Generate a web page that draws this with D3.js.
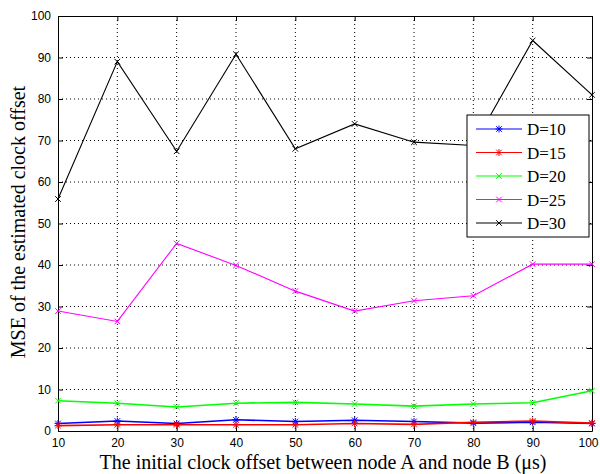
<html>
<head>
<script src="https://d3js.org/d3.v7.min.js"></script>
<style>
body { margin: 0; background: #fff; }
svg { display: block; }
</style>
</head>
<body>
<svg></svg>
<script>

var width = 600;
var height = 474;
var margin = { top: 16, right: 8, bottom: 43, left: 58 };

// data
var offsets = [10, 20, 30, 40, 50, 60, 70, 80, 90, 100];
var d10 = [1.8, 2.4, 1.8, 2.7, 2.3, 2.6, 2.3, 1.9, 2.1, 1.8];
var d15 = [1.3, 1.5, 1.5, 1.5, 1.5, 1.8, 1.6, 2.1, 2.4, 1.9];
var d20 = [7.3, 6.7, 5.8, 6.7, 6.9, 6.5, 6.0, 6.5, 6.8, 9.7];
var d25 = [28.9, 26.4, 45.2, 39.9, 33.7, 28.9, 31.4, 32.6, 40.2, 40.2];
var d30 = [55.9, 89.0, 67.4, 90.8, 68.0, 74.0, 69.6, 68.8, 94.1, 81.0];
var xTicks = [10, 20, 30, 40, 50, 60, 70, 80, 90, 100];
var yTicks = [0, 10, 20, 30, 40, 50, 60, 70, 80, 90, 100];

var series = [
	{ name: "D=10", values: d10, color: "#0000ff", marker: "star" },
	{ name: "D=15", values: d15, color: "#ff0000", marker: "star" },
	{ name: "D=20", values: d20, color: "#00ff00", marker: "x" },
	{ name: "D=25", values: d25, color: "#ff00ff", marker: "x" },
	{ name: "D=30", values: d30, color: "#000000", marker: "x" }
];

var svg = d3.select("svg").attr("width", width).attr("height", height);

var x = d3.scaleLinear().domain([10, 100]).range([margin.left, width - margin.right]);
var y = d3.scaleLinear().domain([0, 100]).range([height - margin.bottom, margin.top]);

var x0 = x.range()[0], x1 = x.range()[1];
var y0 = y.range()[0], y1 = y.range()[1];

// dotted grid
svg.append("g").selectAll("line").data(xTicks.slice(1, -1)).enter().append("line")
	.attr("x1", function (d) { return x(d); }).attr("x2", function (d) { return x(d); })
	.attr("y1", y1).attr("y2", y0)
	.style("stroke", "#000").style("stroke-width", 1).style("stroke-dasharray", "1,3");
svg.append("g").selectAll("line").data(yTicks.slice(1, -1)).enter().append("line")
	.attr("x1", x0).attr("x2", x1)
	.attr("y1", function (d) { return y(d); }).attr("y2", function (d) { return y(d); })
	.style("stroke", "#000").style("stroke-width", 1).style("stroke-dasharray", "1,3");

// axes, ticks inward
var font = "Arial, 'Liberation Sans', sans-serif";
var gx = svg.append("g").attr("transform", "translate(0," + y0 + ")")
	.call(d3.axisBottom(x).tickValues(xTicks).tickSizeInner(-5).tickSizeOuter(0).tickPadding(7));
var gy = svg.append("g").attr("transform", "translate(" + x0 + ",0)")
	.call(d3.axisLeft(y).tickValues(yTicks).tickSizeInner(-5).tickSizeOuter(0).tickPadding(7));
svg.append("g").attr("transform", "translate(0," + y1 + ")")
	.call(d3.axisTop(x).tickValues(xTicks).tickSizeInner(-5).tickSizeOuter(0).tickFormat(""));
svg.append("g").attr("transform", "translate(" + x1 + ",0)")
	.call(d3.axisRight(y).tickValues(yTicks).tickSizeInner(-5).tickSizeOuter(0).tickFormat(""));
svg.selectAll(".domain").style("stroke", "#000");
svg.selectAll(".tick line").style("stroke", "#000");
gx.selectAll("text").style("font-family", font).style("font-size", "12px").style("fill", "#000");
gy.selectAll("text").style("font-family", font).style("font-size", "12px").style("fill", "#000");
// keep the last label inside the page
gx.selectAll("text").filter(function (d) { return d == 100; }).attr("dx", -4);

// series lines and markers
var line = d3.line()
	.x(function (d, i) { return x(offsets[i]); })
	.y(function (d) { return y(d); });

function drawMarker(g, type, cx, cy, color) {
	var s = 3.5;
	var m = g.append("g").attr("transform", "translate(" + cx + "," + cy + ")")
		.style("stroke", color).style("stroke-width", 1).style("fill", "none");
	m.append("line").attr("x1", -s * 0.8).attr("y1", -s * 0.8).attr("x2", s * 0.8).attr("y2", s * 0.8);
	m.append("line").attr("x1", -s * 0.8).attr("y1", s * 0.8).attr("x2", s * 0.8).attr("y2", -s * 0.8);
	if (type == "star") {
		m.append("line").attr("x1", 0).attr("y1", -s).attr("x2", 0).attr("y2", s);
		m.append("line").attr("x1", -s).attr("y1", 0).attr("x2", s).attr("y2", 0);
	}
}

series.forEach(function (s) {
	var g = svg.append("g");
	g.append("path").datum(s.values).attr("d", line)
		.style("fill", "none").style("stroke", s.color)
		.style("stroke-width", s.color == "#000000" || s.color == "#ff00ff" ? 1.1 : 1.6);
	s.values.forEach(function (v, i) {
		drawMarker(g, s.marker, x(offsets[i]), y(v), s.color);
	});
});

// legend
var lg = svg.append("g").attr("transform", "translate(467,115)");
lg.append("rect").attr("width", 122).attr("height", 122)
	.style("fill", "#fff").style("stroke", "#000").style("stroke-width", 1);
series.forEach(function (s, i) {
	var ly = 14 + i * 23.5;
	lg.append("line").attr("x1", 9).attr("x2", 55).attr("y1", ly).attr("y2", ly)
		.style("stroke", s.color).style("stroke-width", 1.2);
	drawMarker(lg, s.marker, 32, ly, s.color);
	lg.append("text").attr("x", 60).attr("y", ly + 6).text(s.name)
		.style("font-family", "'Times New Roman', 'Liberation Serif', serif")
		.style("font-size", "17px");
});

// axis titles
var serif = "'Times New Roman', 'Liberation Serif', serif";
svg.append("text").attr("x", 323).attr("y", 469)
	.attr("text-anchor", "middle").text("The initial clock offset between node A and node B (\u03bcs)")
	.style("font-family", serif).style("font-size", "20px");
svg.append("text").attr("transform", "translate(25,222) rotate(-90)")
	.attr("text-anchor", "middle").text("MSE of the estimated clock offset")
	.style("font-family", serif).style("font-size", "20px");

</script>
</body>
</html>
